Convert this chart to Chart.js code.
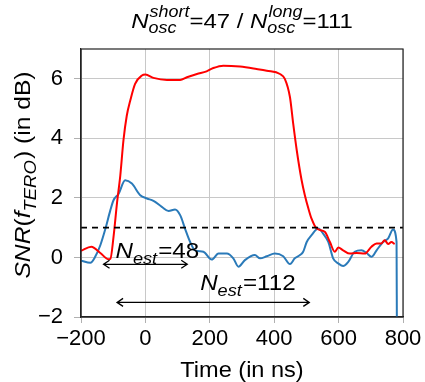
<!DOCTYPE html>
<html>
<head>
<meta charset="utf-8">
<script src="https://cdn.jsdelivr.net/npm/chart.js@4.4.1/dist/chart.umd.min.js"></script>
<style>
html,body{margin:0;padding:0;background:#fff;}
#wrap{width:425px;height:382px;position:relative;}
</style>
</head>
<body>
<div id="wrap"><canvas id="c" width="425" height="382"></canvas></div>
<script>
// ---- data (time in ns, SNR in dB) ----
const redTime = [-200,-168,-140,-114,-109,-99,-88,-78,-68,-58,-47,-32,-11,0,25,67,108,129,160,190,211,242,294,345,377,418,433,449,459,470,485,495,506,516,532,557,573,588,599,614,635,656,681,702,718,733,743,754,764,774];
const redSNR  = [0.22,0.36,0.15,-0.06,-0.05,0.69,1.85,2.75,3.95,4.75,5.27,5.83,6.11,6.14,6.03,5.96,5.96,6.05,6.16,6.25,6.36,6.44,6.41,6.33,6.27,6.16,6.0,5.38,4.49,3.6,2.6,2.1,1.65,1.3,0.97,0.86,0.52,0.19,0.33,0.24,0.13,0.15,0.13,0.36,0.47,0.47,0.58,0.45,0.52,0.45];
const blueTime = [-200,-171,-156,-140,-124,-109,-99,-83,-63,-42,-16,5,25,51,72,92,108,123,139,154,180,206,227,253,273,289,309,340,356,377,402,428,449,464,480,490,501,516,537,552,568,583,599,614,630,650,671,687,702,718,738,754,769,780,781];
const blueSNR  = [-0.11,-0.18,0.02,0.41,0.97,1.58,1.92,2.14,2.59,2.48,2.09,1.98,1.9,1.7,1.56,1.61,1.42,0.97,0.52,0.24,0.19,-0.07,0.13,0.13,-0.03,-0.31,-0.09,0.08,-0.03,0.04,0.13,0.04,-0.22,-0.03,0.08,0.19,0.52,0.75,0.97,0.8,0.52,-0.03,-0.2,-0.29,-0.15,0.19,0.24,0.15,0.02,0.24,0.52,0.64,0.94,0.52,-2.5];
const thresholdTime = [-200, 800];
const thresholdSNR  = [1, 1];
const xTicks = [-200, 0, 200, 400, 600, 800];
const yTicks = [-2, 0, 2, 4, 6];
// N_est annotation arrows (data coordinates)
const estValues = ['48', '112'];
const estStart  = [-130, -88];
const estEnd    = [130, 509];
const estLevel  = [-0.23, -1.51];
const estLabelX = [-93, 170];
const estLabelY = [-0.02, -1.1];

const FONT = '"Liberation Sans", Arial, Helvetica, sans-serif';

function toPts(xs, ys){ return xs.map((x,i)=>({x:x, y:ys[i]})); }

// rich text helpers
function partWidth(ctx, p, size){
  if (p.t !== undefined){
    ctx.font = (p.it?'italic ':'') + size + 'px ' + FONT;
    return ctx.measureText(p.t).width;
  }
  const s = size*0.75;
  ctx.font = 'italic ' + s + 'px ' + FONT;
  let w = 0;
  if (p.sup) w = Math.max(w, ctx.measureText(p.sup).width);
  if (p.sub) w = Math.max(w, ctx.measureText(p.sub).width);
  return w + 1;
}
function drawRich(ctx, parts, size, align){
  let total = 0;
  parts.forEach(p => total += partWidth(ctx, p, size));
  let x = align === 'center' ? -total/2 : 0;
  ctx.textBaseline = 'alphabetic';
  ctx.textAlign = 'left';
  parts.forEach(p => {
    const w = partWidth(ctx, p, size);
    if (p.t !== undefined){
      ctx.font = (p.it?'italic ':'') + size + 'px ' + FONT;
      ctx.fillText(p.t, x, 0);
    } else {
      const s = size*0.75;
      ctx.font = 'italic ' + s + 'px ' + FONT;
      if (p.sup) ctx.fillText(p.sup, x + 1, -size*0.5);
      if (p.sub) ctx.fillText(p.sub, x, size*0.28);
    }
    x += w;
  });
}

const decor = {
  id: 'decor',
  afterDatasetsDraw(chart){
    const ctx = chart.ctx, a = chart.chartArea;
    const xs = chart.scales.x, ys = chart.scales.y;
    ctx.save();
    // frame
    ctx.strokeStyle = '#222';
    ctx.lineWidth = 1.2;
    ctx.strokeRect(a.left, a.top, a.right - a.left, a.bottom - a.top);
    // arrows
    ctx.fillStyle = '#000';
    ctx.strokeStyle = '#000';
    ctx.lineWidth = 1.3;
    for (let i = 0; i < estValues.length; i++){
      const x1 = xs.getPixelForValue(estStart[i]);
      const x2 = xs.getPixelForValue(estEnd[i]);
      const y = ys.getPixelForValue(estLevel[i]);
      ctx.beginPath();
      ctx.moveTo(x1, y); ctx.lineTo(x2, y);
      ctx.moveTo(x1 + 6, y - 4); ctx.lineTo(x1, y); ctx.lineTo(x1 + 6, y + 4);
      ctx.moveTo(x2 - 6, y - 4); ctx.lineTo(x2, y); ctx.lineTo(x2 - 6, y + 4);
      ctx.stroke();
      const lx = xs.getPixelForValue(estLabelX[i]);
      const ly = ys.getPixelForValue(estLabelY[i]);
      ctx.save();
      ctx.translate(lx, ly);
      ctx.scale(1.1, 1);
      drawRich(ctx, [{t:'N', it:true}, {sub:'est'}, {t:'=' + estValues[i]}], 22, 'left');
      ctx.restore();
    }
    // title
    const cx = (a.left + a.right) / 2;
    ctx.save();
    ctx.translate(cx, 27.5);
    ctx.scale(1.14, 1);
    drawRich(ctx, [{t:'N', it:true}, {sup:'short', sub:'osc'}, {t:'=47 / '}, {t:'N', it:true}, {sup:'long', sub:'osc'}, {t:'=111'}], 21, 'center');
    ctx.restore();
    // x title
    ctx.save();
    ctx.translate(cx, 376.5);
    ctx.scale(1.07, 1);
    drawRich(ctx, [{t:'Time (in ns)'}], 22, 'center');
    ctx.restore();
    // y title
    ctx.save();
    ctx.translate(30, (a.top + a.bottom) / 2 - 8);
    ctx.rotate(-Math.PI/2);
    ctx.scale(1.12, 1);
    drawRich(ctx, [{t:'SNR', it:true}, {t:'('}, {t:'f', it:true}, {sub:'TERO'}, {t:')'}, {t:' (in dB)'}], 22, 'center');
    ctx.restore();
    ctx.restore();
  }
};

new Chart(document.getElementById('c'), {
  type: 'line',
  data: {
    datasets: [
      { data: toPts(thresholdTime, thresholdSNR), borderColor: '#000', borderWidth: 1.6, borderDash: [6,5], pointRadius: 0, tension: 0 },
      { data: toPts(redTime, redSNR), borderColor: '#ff0000', borderWidth: 2, pointRadius: 0, cubicInterpolationMode: 'monotone' },
      { data: toPts(blueTime, blueSNR), borderColor: '#2a7ab9', borderWidth: 2, pointRadius: 0, cubicInterpolationMode: 'monotone' }
    ]
  },
  options: {
    responsive: false,
    animation: false,
    events: [],
    layout: { padding: { top: 49, right: 22, left: 0, bottom: 0 } },
    plugins: { legend: { display: false }, title: { display: false }, tooltip: { enabled: false } },
    scales: {
      x: {
        type: 'linear', min: -200, max: 800,
        afterBuildTicks: s => { s.ticks = xTicks.map(v => ({value: v})); },
        afterFit: s => { s.height = 65; },
        ticks: { color: '#000', font: { family: FONT, size: 22 }, padding: 3, maxRotation: 0,
                 callback: v => String(v).replace('-', '\u2212') },
        grid: { color: '#c8c8c8', lineWidth: 1, tickLength: 6, tickColor: '#b0b0b0' },
        border: { display: true, color: '#222', width: 1.2 }
      },
      y: {
        type: 'linear', min: -2, max: 7,
        afterBuildTicks: s => { s.ticks = yTicks.map(v => ({value: v})); },
        afterFit: s => { s.width = 81; },
        ticks: { color: '#000', font: { family: FONT, size: 22 }, padding: 11,
                 callback: v => String(v).replace('-', '\u2212') },
        grid: { color: '#c8c8c8', lineWidth: 1, tickLength: 7, tickColor: '#b0b0b0' },
        border: { display: true, color: '#222', width: 1.2 }
      }
    }
  },
  plugins: [decor]
});
</script>
</body>
</html>
